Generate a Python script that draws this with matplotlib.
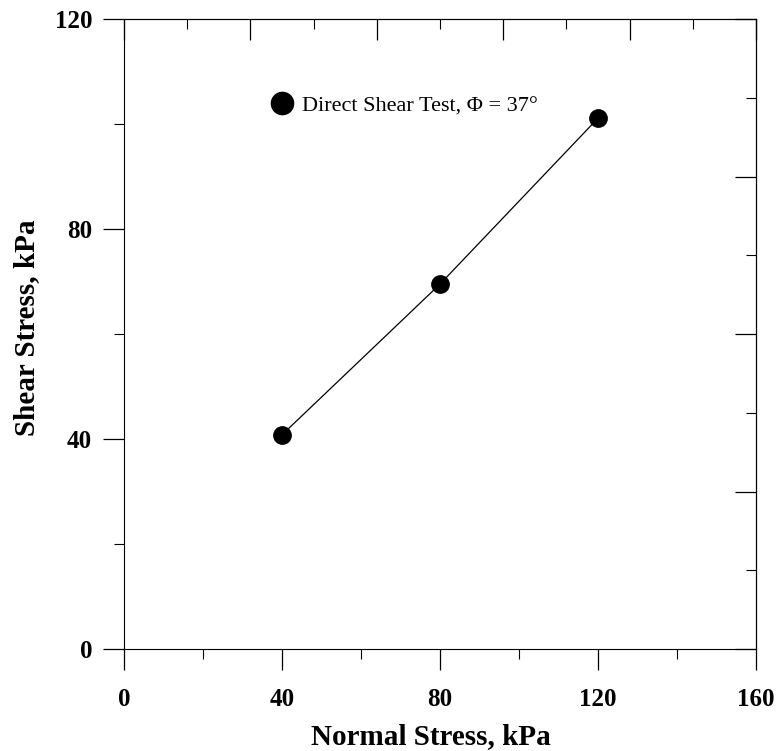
import matplotlib.pyplot as plt
from matplotlib.ticker import MultipleLocator, NullFormatter
from matplotlib.lines import Line2D

# ---------- Data ----------
normal_stress = [40, 80, 120]
shear_stress = [40.8, 69.5, 101.1]
legend_label = "Direct Shear Test, \u03a6 = 37\u00b0"
x_label = "Normal Stress, kPa"
y_label = "Shear Stress, kPa"

plt.rcParams['font.family'] = ['Liberation Serif', 'DejaVu Serif']

fig = plt.figure(figsize=(7.77, 7.51), dpi=100)
ax = fig.add_axes([124 / 777, 102 / 751, 632 / 777, 630 / 751])

ax.plot(normal_stress, shear_stress, color="black", linewidth=0.9,
        marker="o", markersize=12.5, markerfacecolor="black", markeredgecolor="black")

ax.set_xlim(0, 160)
ax.set_ylim(0, 120)
ax.xaxis.set_major_locator(MultipleLocator(40))
ax.xaxis.set_minor_locator(MultipleLocator(20))
ax.yaxis.set_major_locator(MultipleLocator(40))
ax.yaxis.set_minor_locator(MultipleLocator(20))
ax.tick_params(axis="both", which="major", direction="out", length=15, width=0.9,
               labelsize=18, color="black")
ax.tick_params(axis="both", which="minor", direction="out", length=7.5, width=0.8)
ax.tick_params(axis="x", which="major", pad=13)
ax.tick_params(axis="y", which="major", pad=8)
for lbl in ax.get_xticklabels() + ax.get_yticklabels():
    lbl.set_fontweight("bold")
for s in ax.spines.values():
    s.set_linewidth(0.8)

# top and right: own scale, inward ticks, no labels
top = ax.secondary_xaxis("top", functions=(lambda x: x / 16, lambda x: x * 16))
top.xaxis.set_major_locator(MultipleLocator(2))
top.xaxis.set_minor_locator(MultipleLocator(1))
top.xaxis.set_major_formatter(NullFormatter())
top.tick_params(which="major", direction="in", length=15, width=0.9)
top.tick_params(which="minor", direction="in", length=7.5, width=0.8)

right = ax.secondary_yaxis("right", functions=(lambda y: y / 15, lambda y: y * 15))
right.yaxis.set_major_locator(MultipleLocator(2))
right.yaxis.set_minor_locator(MultipleLocator(1))
right.yaxis.set_major_formatter(NullFormatter())
right.tick_params(which="major", direction="in", length=15, width=0.9)
right.tick_params(which="minor", direction="in", length=7.5, width=0.8)

ax.set_xlabel(x_label, fontsize=21, fontweight="bold")
ax.set_ylabel(y_label, fontsize=21, fontweight="bold")
ax.xaxis.set_label_coords(0.485, -0.118)
ax.yaxis.set_label_coords(-0.133, 0.51)

handle = Line2D([], [], linestyle="none", marker="o", markersize=16,
                color="black")
ax.legend([handle], [legend_label], loc="center left",
          bbox_to_anchor=(0.233, 0.862), frameon=False, fontsize=16,
          handletextpad=0.37, borderpad=0, borderaxespad=0,
          handlelength=1.0)

fig.savefig("out.png", dpi=100)
